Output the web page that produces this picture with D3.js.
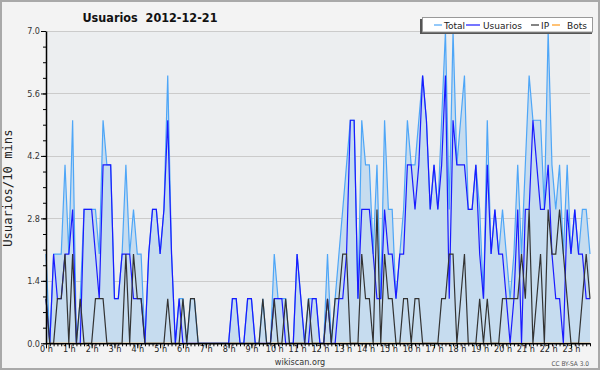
<!DOCTYPE html>
<html>
<head>
<meta charset="utf-8">
<script src="https://cdn.jsdelivr.net/npm/d3@7"></script>
<style>
  body { margin: 0; background: #ffffff; }
  svg { display: block; font-family: "DejaVu Sans", sans-serif; }
</style>
</head>
<body>
<div id="chart"></div>
<script>
// one value per 10 minutes, 0 h .. 23 h 50
const total = [2,0,2,2,2,4,2,5,0,1,3,3,3,3,2,5,4,4,1,1,2,4,2,3,2,2,0,2,3,3,2,3,6,2,0,1,1,0,1,1,
  0,0,0,0,0,0,0,0,0,1,1,0,0,1,1,0,0,1,0,0,2,1,1,1,0,0,2,1,0,1,1,1,0,0,2,0,1,2,3,4,
  5,5,1,5,4,4,2,4,1,5,3,3,1,2,3,5,4,4,5,6,5,3,4,3,5,7,3,7,4,5,6,3,3,4,3,1,5,2,3,2,
  3,2,1,2,4,2,4,6,5,5,5,3,7,4,3,4,2,4,2,3,2,3,3,2];
const usuarios = [1,0,2,1,1,2,2,3,0,0,3,3,3,2,1,4,4,4,1,1,2,2,2,1,1,1,0,2,3,3,2,3,5,2,0,1,0,0,0,0,
  0,0,0,0,0,0,0,0,0,1,1,0,0,1,1,0,0,0,0,0,1,1,1,0,0,0,2,1,0,0,1,1,0,0,1,0,0,1,1,2,
  5,5,1,3,3,3,2,1,1,3,2,2,1,2,2,4,4,3,4,6,5,3,4,3,4,6,1,5,4,4,4,3,3,4,2,1,4,2,3,2,
  2,1,0,1,3,0,3,3,5,4,3,3,4,2,1,1,0,3,2,3,2,2,1,1];
const ip = [1,0,0,1,1,2,0,2,0,1,0,0,0,1,1,1,0,0,0,0,0,2,0,2,1,1,0,0,0,0,0,0,1,0,0,0,1,0,1,1,
  0,0,0,0,0,0,0,0,0,0,0,0,0,0,0,0,0,1,0,0,1,0,0,1,0,0,0,0,0,1,0,0,0,0,1,0,1,1,2,2,
  0,0,0,2,1,1,0,3,0,2,1,1,0,0,1,1,0,1,1,0,0,0,0,0,1,1,2,2,0,1,2,0,0,0,1,0,1,0,0,0,
  1,1,1,1,1,2,1,3,0,1,2,0,3,2,2,3,2,1,0,0,0,1,2,1];
const bots = total.map(() => 0);
const hourLabels = d3.range(24).map(h => h + " h");
const yTicks = [0, 1.4, 2.8, 4.2, 5.6, 7.0];
const legendNames = ["Total", "Usuarios", "IP", "Bots"];
const legendColors = ["#4ea6f7", "#1a1aff", "#333333", "#ff9a1a"];

const W = 600, H = 370;
const margin = {left: 46, right: 10, top: 31, bottom: 26};

const svg = d3.select("#chart").append("svg")
  .attr("width", W)
  .attr("height", H);

// background and frame
svg.append("rect").attr("x", 0).attr("y", 0).attr("width", W).attr("height", H)
  .attr("fill", "#f3f3f3");
svg.append("rect").attr("x", 1).attr("y", 1).attr("width", W - 2).attr("height", H - 2)
  .attr("fill", "none").attr("stroke", "#a9a9a9").attr("stroke-width", 2);

const x = d3.scaleLinear().domain([0, total.length - 1]).range([margin.left, W - margin.right]);
const y = d3.scaleLinear().domain([0, 7]).range([H - margin.bottom - 0.7, margin.top]);

svg.append("rect")
  .attr("x", x(0)).attr("y", y(7))
  .attr("width", x(total.length - 1) - x(0)).attr("height", y(0) - y(7))
  .attr("fill", "#eceef0");

// gridlines
svg.append("g").selectAll("line")
  .data(yTicks.slice(1))
  .join("line")
    .attr("x1", x(0)).attr("x2", x(total.length - 1))
    .attr("y1", d => Math.round(y(d)) + 0.5).attr("y2", d => Math.round(y(d)) + 0.5)
    .attr("stroke", "#cbcbcb");

// series
const area = d3.area().x((d, i) => x(i)).y0(y(0)).y1(d => y(d));
const line = d3.line().x((d, i) => x(i)).y(d => y(d));

svg.append("path").datum(total).attr("d", area).attr("fill", "#c6dcef");
svg.append("path").datum(bots).attr("d", line)
  .attr("fill", "none").attr("stroke", legendColors[3]).attr("stroke-width", 1.2);
svg.append("path").datum(total).attr("d", line)
  .attr("fill", "none").attr("stroke", legendColors[0]).attr("stroke-width", 1.2);
svg.append("path").datum(usuarios).attr("d", line)
  .attr("fill", "none").attr("stroke", legendColors[1]).attr("stroke-width", 1.2);
svg.append("path").datum(ip).attr("d", line)
  .attr("fill", "none").attr("stroke", legendColors[2]).attr("stroke-width", 1.2);

// y axis
const yAxis = svg.append("g")
  .attr("transform", `translate(${x(0)},0)`)
  .call(d3.axisLeft(y).tickValues(yTicks).tickFormat(d3.format(".1f")).tickSize(5).tickSizeOuter(0));
svg.append("g")
  .attr("transform", `translate(${x(0)},0)`)
  .call(d3.axisLeft(y).tickValues(d3.range(0, 7.01, 0.35)).tickFormat("").tickSize(3).tickSizeOuter(0))
  .select(".domain").remove();
yAxis.selectAll("text").attr("font-size", 9).attr("fill", "#333").attr("x", -6)
  .attr("font-family", "DejaVu Sans Condensed, DejaVu Sans");
yAxis.select(".domain").attr("stroke", "#000").attr("stroke-width", 1.5);

// x axis
const xAxis = svg.append("g")
  .attr("transform", `translate(0,${y(0)})`)
  .call(d3.axisBottom(x).tickValues(d3.range(0, 144, 6)).tickFormat((d, i) => hourLabels[i])
    .tickSize(5).tickSizeOuter(0));
svg.append("g")
  .attr("transform", `translate(0,${y(0)})`)
  .call(d3.axisBottom(x).tickValues(d3.range(0, 144)).tickFormat("").tickSize(3).tickSizeOuter(0))
  .select(".domain").remove();
xAxis.selectAll("text").attr("font-size", 9).attr("fill", "#222").attr("dy", "0.55em")
  .attr("y", 4).attr("font-family", "DejaVu Sans Condensed, DejaVu Sans");
xAxis.select(".domain").attr("stroke", "#000").attr("stroke-width", 1.5);

// titles
svg.append("text")
  .attr("x", 150).attr("y", 22)
  .attr("text-anchor", "middle")
  .style("white-space", "pre")
  .attr("font-family", "DejaVu Sans Condensed, DejaVu Sans")
  .attr("font-weight", "bold").attr("font-size", 12.5).attr("fill", "#111")
  .text("Usuarios  2012-12-21");

svg.append("text")
  .attr("transform", `translate(12,${(y(0) + y(7)) / 2 + 1}) rotate(-90)`)
  .attr("text-anchor", "middle")
  .attr("font-family", "DejaVu Sans Mono, monospace")
  .attr("font-size", 12.2).attr("fill", "#222")
  .text("Usuarios/10 mins");

svg.append("text")
  .attr("x", 300).attr("y", 365)
  .attr("text-anchor", "middle")
  .attr("font-family", "DejaVu Sans Condensed, DejaVu Sans")
  .attr("font-size", 9).attr("fill", "#333")
  .text("wikiscan.org");

svg.append("text")
  .attr("x", 589).attr("y", 366)
  .attr("text-anchor", "end")
  .attr("font-family", "DejaVu Sans Condensed, DejaVu Sans")
  .attr("font-size", 6.5).attr("fill", "#555")
  .text("CC BY-SA 3.0");

// legend
const lg = svg.append("g");
lg.append("rect").attr("x", 420).attr("y", 19).attr("width", 172).attr("height", 15).attr("fill", "#555");
lg.append("rect").attr("x", 422.5).attr("y", 17.5).attr("width", 170).attr("height", 14.5)
  .attr("fill", "#fff").attr("stroke", "#999");
const legendX = [434, 466, 531, 552];
const items = lg.selectAll("g.item")
  .data(legendNames)
  .join("g")
    .attr("class", "item")
    .attr("transform", (d, i) => `translate(${legendX[i]},25)`);
items.append("line")
  .attr("x1", 0).attr("x2", (d, i) => i == 1 ? 14 : 8)
  .attr("stroke", (d, i) => legendColors[i]).attr("stroke-width", 1.2);
items.append("text")
  .attr("x", (d, i) => i == 1 ? 17 : (i == 3 ? 15 : 10)).attr("y", 3.5)
  .attr("font-size", 9).attr("fill", "#222")
  .text(d => d);
</script>
</body>
</html>
